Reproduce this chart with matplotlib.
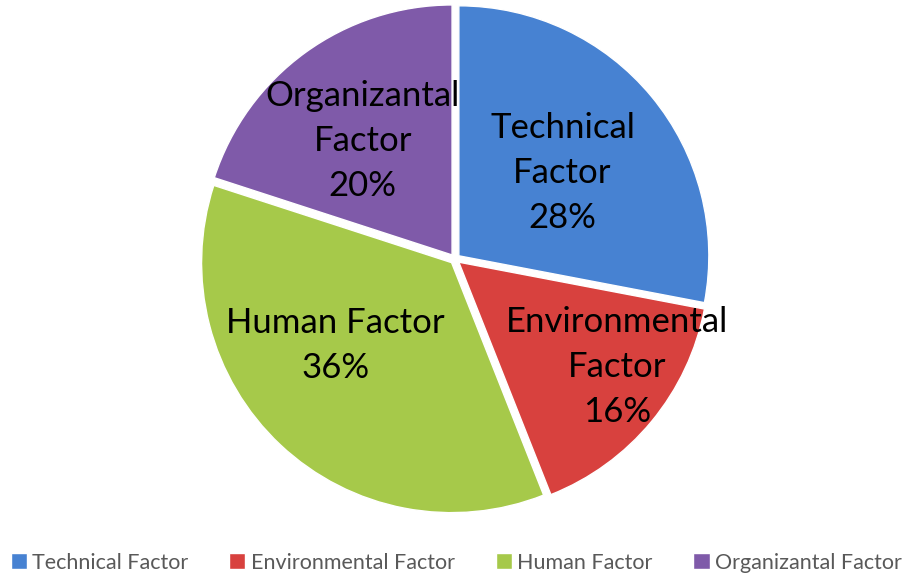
import numpy as np
import matplotlib.pyplot as plt

categories = ['Technical Factor', 'Environmental Factor', 'Human Factor', 'Organizantal Factor']
label_text = ['Technical\nFactor\n28%', 'Environmental\nFactor\n16%', 'Human Factor\n36%', 'Organizantal\nFactor\n20%']
shares = [28, 16, 36, 20]
colors = ['#4782d2', '#d8413e', '#a6c94a', '#7f5aa9']

plt.rcParams['font.family'] = ['Lato', 'DejaVu Sans']

fig = plt.figure(figsize=(9.07, 5.79), dpi=100)
ax = fig.add_axes([0, 0, 1, 1])

wedges, _ = ax.pie(shares, colors=colors, startangle=90, counterclock=False,
                   explode=[0.02] * 4, radius=1.0,
                   wedgeprops=dict(edgecolor='white', linewidth=1.0))

# label placement: distance from centre and small angle tweak per slice
label_r = [0.55, 0.78, 0.59, 0.60]
label_da = [-1, 6, -11, 2]
for w, txt, r, da in zip(wedges, label_text, label_r, label_da):
    mid = np.deg2rad((w.theta1 + w.theta2) / 2 + da)
    ax.text(r * np.cos(mid), r * np.sin(mid), txt, ha='center', va='center',
            fontsize=25, color='black', linespacing=1.5)

ax.set_aspect('equal')
ax.set_xlim(-455 / 250, (907 - 455) / 250)
ax.set_ylim(-319 / 250, 258 / 250)
ax.axis('off')

leg = fig.legend(wedges, categories, loc='center', bbox_to_anchor=(0.503, 0.028),
                 ncol=4, frameon=False, fontsize=15.5, handlelength=0.75,
                 handleheight=0.75, handletextpad=0.25, columnspacing=1.9,
                 labelcolor='#595959')

fig.savefig('out.png', dpi=100, facecolor='white')
